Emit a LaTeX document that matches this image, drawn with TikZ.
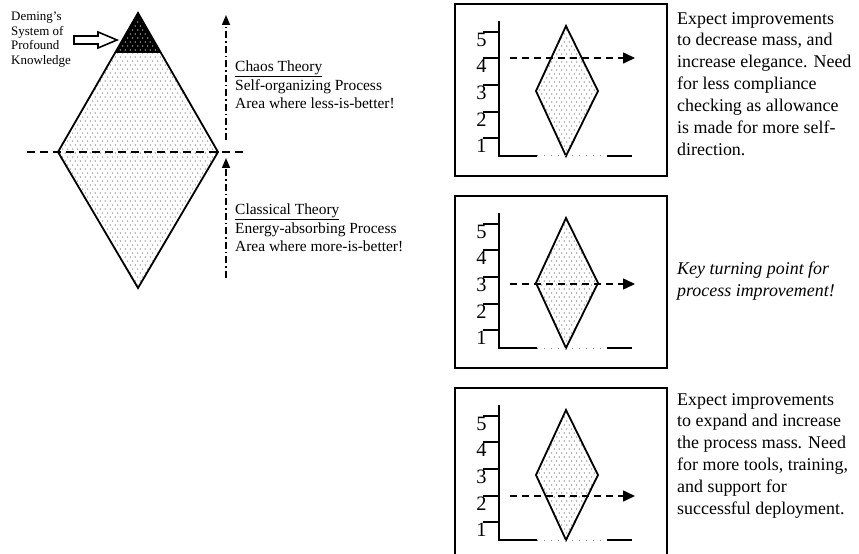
\documentclass[tikz,border=0pt]{standalone}
\usepackage{fontspec}
\setmainfont{Liberation Serif}
\usetikzlibrary{arrows.meta,patterns.meta}

\tikzdeclarepattern{
  name=sdots, type=uncolored,
  bottom left={(0pt,0pt)}, top right={(5pt,8pt)},
  tile size={(5pt,8pt)},
  code={\fill (1.25pt,2pt) circle (0.55pt); \fill (3.75pt,6pt) circle (0.55pt);}
}

\begin{document}
\begin{tikzpicture}[x=1bp,y=-1bp,
  outl/.style={line width=1.8bp, line join=miter},
  dotfill/.style={pattern=sdots, pattern color=black!65},
  hdash/.style={line width=1.6bp, dash pattern=on 8bp off 5bp},
  pdash/.style={line width=1.6bp, dash pattern=on 7bp off 5bp, -{Triangle[length=12bp,width=11bp]}},
  dashdot/.style={line width=1.6bp, dash pattern=on 7bp off 3bp on 1.5bp off 3bp, -{Triangle[length=10bp,width=8bp]}},
  panelbox/.style={draw, line width=1.9bp},
  axisline/.style={line width=1.9bp},
  faintdots/.style={line width=1bp, black!45, dash pattern=on 1bp off 6bp},
  digit/.style={anchor=north, inner sep=0, font=\fontsize{20.5}{20}\selectfont},
  bodytext/.style={anchor=north west, align=left, inner sep=0, font=\fontsize{18}{22}\selectfont},
  sidetext/.style={anchor=north west, align=left, inner sep=0, font=\fontsize{15.5}{18.3}\selectfont},
  smalltext/.style={anchor=north west, align=left, inner sep=0, font=\fontsize{13}{14.6}\selectfont}
]
\useasboundingbox (0,0) rectangle (859,554);

% ---------- main diamond ----------
\coordinate (mT) at (138,13);
\coordinate (mL) at (58,152);
\coordinate (mB) at (138,288);
\coordinate (mR) at (218,152);
\coordinate (kL) at (115,53);
\coordinate (kR) at (161,53);
\fill[dotfill] (mT) -- (mL) -- (mB) -- (mR) -- cycle;
\fill[black] (mT) -- (kL) -- (kR) -- cycle;
\fill[pattern=sdots, pattern color=white] (mT) -- (kL) -- (kR) -- cycle;
\draw[outl] (mT) -- (mL) -- (mB) -- (mR) -- cycle;

% hollow block arrow
\draw[line width=1.6bp, line join=miter]
  (74,36) -- (98,36) -- (98,32) -- (117,40) -- (98,48) -- (98,44) -- (74,44) -- cycle;

\node[smalltext] (deming) at (11,12) {Deming's\\System of\\Profound\\Knowledge};

% horizontal dashed line
\coordinate (hL) at (27,152);
\coordinate (hR) at (245,152);
\draw[hdash] (hL) -- (hR);

% vertical dash-dot arrows
\coordinate (uS) at (226,140);
\coordinate (uE) at (226,15);
\draw[dashdot] (uS) -- (uE);
\coordinate (lS) at (226,278);
\coordinate (lE) at (226,158);
\draw[dashdot] (lS) -- (lE);

\node[sidetext] (chaos) at (235,61) {\underline{Chaos Theory}\\Self-organizing Process\\Area where less-is-better!};
\node[sidetext] (classic) at (235,204) {\underline{Classical Theory}\\Energy-absorbing Process\\Area where more-is-better!};

% ---------- panels ----------
\foreach \i/\T/\A in {1/4/54, 2/196/88, 3/388/108}{
  \draw[panelbox] (455,\T) rectangle (667,\T+172);
  \fill[dotfill] (566,\T+22) -- (536,\T+87) -- (566,\T+152) -- (598,\T+87) -- cycle;
  \draw[outl] (566,\T+22) -- (536,\T+87) -- (566,\T+152) -- (598,\T+87) -- cycle;
  \coordinate (ax\i top) at (499,\T+17);
  \coordinate (ax\i org) at (499,\T+152);
  \coordinate (ax\i a) at (537,\T+152);
  \coordinate (ax\i b) at (607,\T+152);
  \coordinate (ax\i end) at (632,\T+152);
  \draw[axisline] (ax\i top) -- (ax\i org) -- (ax\i a);
  \draw[axisline] (ax\i b) -- (ax\i end);
  \draw[faintdots] (ax\i a) -- (ax\i b);
  \foreach \k/\dy in {5/28, 4/54, 3/81, 2/108, 1/134}{
    \node[digit] (d\i\k) at (481.5,\T+\dy+1) {\k};
    \draw[axisline] (483,\T+\dy) -- (499,\T+\dy);
  }
  \coordinate (ar\i s) at (510,\T+\A);
  \coordinate (ar\i e) at (635,\T+\A);
  \draw[pdash] (ar\i s) -- (ar\i e);
}

\node[bodytext] (txt1) at (677,12) {Expect improvements\\to decrease mass, and\\increase elegance. Need\\for less compliance\\checking as allowance\\is made for more self-\\direction.};
\node[bodytext, font=\fontsize{18}{22}\selectfont\itshape] (txt2) at (677,262) {Key turning point for\\process improvement!};
\node[bodytext] (txt3) at (677,393) {Expect improvements\\to expand and increase\\the process mass. Need\\for more tools, training,\\and support for\\successful deployment.};
\end{tikzpicture}
\end{document}
